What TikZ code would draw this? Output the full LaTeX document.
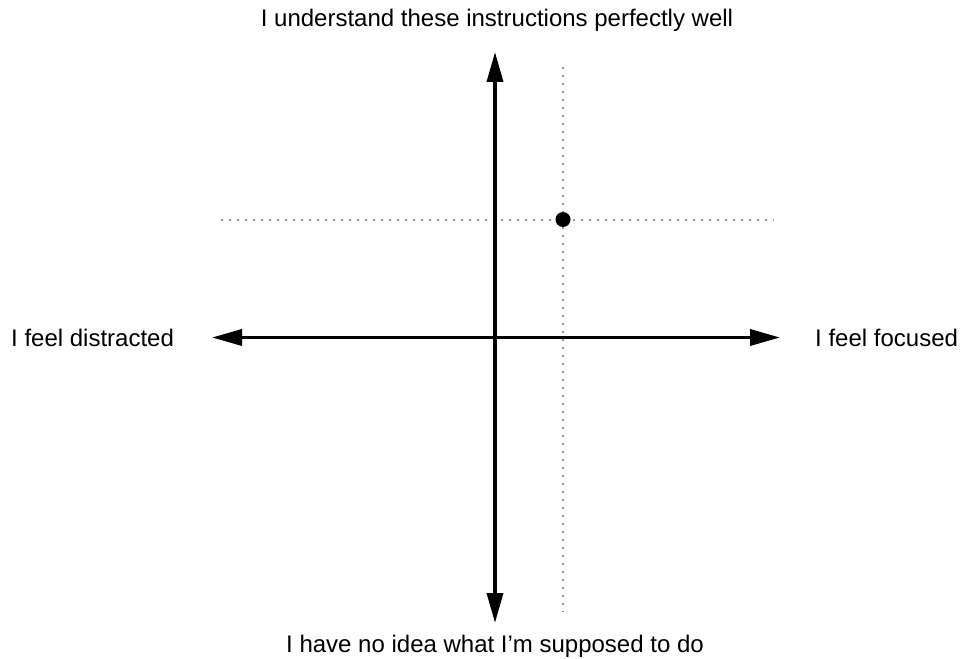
\documentclass[tikz,border=0pt]{standalone}
\usepackage{fontspec}
\setmainfont{Liberation Sans}
\usetikzlibrary{arrows.meta}
\begin{document}
\begin{tikzpicture}[x=1pt,y=-1pt,
  axis/.style={line width=3.5pt,{Triangle[length=30pt,width=16pt]}-{Triangle[length=30pt,width=16pt]}},
  guide/.style={draw=black!40,line width=2pt,dash pattern=on 2pt off 6pt},
  lbl/.style={font=\fontsize{24}{28}\selectfont,inner sep=0pt,anchor=base}]
\useasboundingbox (0,0) rectangle (965,658);
\coordinate (top) at (495,52);
\coordinate (bot) at (495,623);
\coordinate (lft) at (212,337.5);
\coordinate (rgt) at (780,337.5);
\coordinate (gvt) at (563,67);
\coordinate (gvb) at (563,612);
\coordinate (ghl) at (221,220);
\coordinate (ghr) at (774,220);
\draw[guide] (gvt) -- (gvb);
\draw[guide] (ghl) -- (ghr);
\draw[axis] (bot) -- (top);
\draw[axis] (lft) -- (rgt);
\node[fill=black,circle,inner sep=0pt,minimum size=15pt] (pt) at (563,219.5) {};
\node[lbl] (ttop) at (497,27) {I understand these instructions perfectly well};
\node[lbl] (tbot) at (495,652) {I have no idea what I’m supposed to do};
\node[lbl,anchor=base west] (tlft) at (11,346) {I feel distracted};
\node[lbl,anchor=base west] (trgt) at (815,346) {I feel focused};
\end{tikzpicture}
\end{document}
